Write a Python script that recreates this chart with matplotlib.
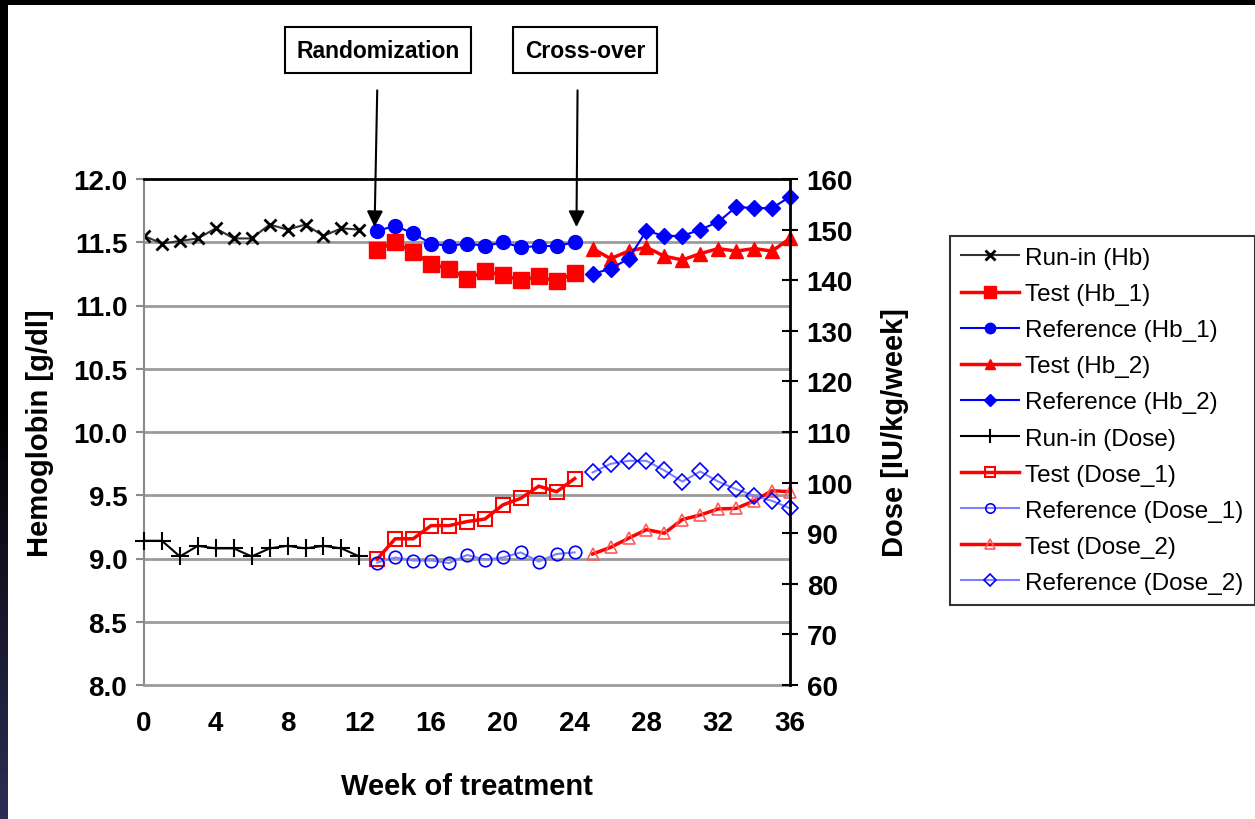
import numpy as np
import matplotlib
matplotlib.use("Agg")
import matplotlib.pyplot as plt
from matplotlib.patches import Rectangle

plt.rcParams['font.family'] = ['Liberation Sans', 'DejaVu Sans']

# week numbers for each phase
weeks_runin = [0, 1, 2, 3, 4, 5, 6, 7, 8, 9, 10, 11, 12]
weeks_p1 = [13, 14, 15, 16, 17, 18, 19, 20, 21, 22, 23, 24]
weeks_p2 = [25, 26, 27, 28, 29, 30, 31, 32, 33, 34, 35, 36]

# hemoglobin [g/dl]
hb_runin = [11.55, 11.49, 11.51, 11.53, 11.61, 11.53, 11.53, 11.64, 11.60, 11.64, 11.55, 11.61, 11.60]
hb_test_1 = [11.44, 11.50, 11.42, 11.33, 11.29, 11.21, 11.27, 11.24, 11.20, 11.23, 11.19, 11.26]
hb_ref_1 = [11.59, 11.63, 11.57, 11.49, 11.47, 11.49, 11.47, 11.50, 11.46, 11.47, 11.47, 11.50]
hb_test_2 = [11.45, 11.37, 11.43, 11.46, 11.39, 11.36, 11.41, 11.45, 11.43, 11.45, 11.43, 11.53]
hb_ref_2 = [11.25, 11.29, 11.37, 11.59, 11.55, 11.55, 11.60, 11.66, 11.78, 11.77, 11.77, 11.86]

# dose [IU/kg/week]
dose_runin = [88.5, 88.5, 85.4, 87.5, 87.0, 87.0, 85.4, 87.0, 87.5, 87.0, 87.5, 87.0, 85.4]
dose_test_1 = [84.9, 88.9, 88.9, 91.5, 91.5, 92.3, 92.8, 95.6, 96.9, 99.3, 98.2, 100.8]
dose_ref_1 = [84.2, 85.2, 84.6, 84.6, 84.1, 85.7, 84.8, 85.2, 86.2, 84.4, 85.9, 86.2]
dose_test_2 = [85.9, 87.2, 89.0, 90.7, 90.0, 92.7, 93.6, 94.8, 94.9, 96.4, 98.4, 98.2]
dose_ref_2 = [102.0, 103.7, 104.3, 104.3, 102.4, 100.2, 102.2, 100.2, 98.7, 97.4, 96.4, 94.9]

hb_ticks = [8.0, 8.5, 9.0, 9.5, 10.0, 10.5, 11.0, 11.5, 12.0]
dose_ticks = [60, 70, 80, 90, 100, 110, 120, 130, 140, 150, 160]
week_ticks = [0, 4, 8, 12, 16, 20, 24, 28, 32, 36]

W, H = 1255, 820
fig = plt.figure(figsize=(W / 100, H / 100), dpi=100, facecolor='white')

# dark border on top and left of the page
fig.patches.append(Rectangle((0, 1 - 6 / H), 1, 6 / H, transform=fig.transFigure,
                             facecolor='black', edgecolor='none', zorder=5))
side = fig.add_axes([0, 0, 8 / W, 1])
side.imshow(np.linspace(0, 1, 200).reshape(-1, 1), aspect='auto', origin='upper',
            cmap=matplotlib.colors.LinearSegmentedColormap.from_list('s', ['#000000', '#000000', '#2e2d55']))
side.axis('off')

ax = fig.add_axes([144 / W, 1 - 686 / H, 646 / W, 506 / H])
ax.set_facecolor('none')
ax2 = ax.twinx()

ax.set_xlim(0, 36)
ax.set_ylim(8.0, 12.0)
ax2.set_ylim(60, 160)
ax.set_xticks(week_ticks)
ax.set_yticks(hb_ticks)
ax.set_yticklabels([f'{v:.1f}' for v in hb_ticks])
ax2.set_yticks(dose_ticks)

for y in hb_ticks[1:-1]:
    ax.axhline(y, color='#9a9a9a', lw=2, zorder=0)
ax.spines['top'].set_color('black')
ax.spines['top'].set_linewidth(2)
ax.spines['bottom'].set_color('#9a9a9a')
ax.spines['bottom'].set_linewidth(2)
ax.spines['left'].set_color('#8a8a8a')
ax.spines['left'].set_linewidth(1.5)
ax.spines['right'].set_visible(False)
for s in ['top', 'left', 'bottom']:
    ax2.spines[s].set_visible(False)
ax2.spines['right'].set_color('black')
ax2.spines['right'].set_linewidth(2)

ax.tick_params(axis='y', length=6, width=1.5, color='#8a8a8a', pad=6, labelsize=20)
ax.tick_params(axis='x', length=0, pad=18, labelsize=20)
ax2.tick_params(axis='y', direction='inout', length=12, width=1.5, color='black', pad=6, labelsize=20)
for lab in ax.get_xticklabels() + ax.get_yticklabels() + ax2.get_yticklabels():
    lab.set_fontweight('bold')

ax.set_xlabel('Week of treatment', fontsize=21, fontweight='bold', labelpad=26)
ax.set_ylabel('Hemoglobin [g/dl]', fontsize=21, fontweight='bold', labelpad=14)
ax2.set_ylabel('Dose [IU/kg/week]', fontsize=21, fontweight='bold', labelpad=20)

red = '#ff0000'
blue = '#0000ff'
lblue = '#8080ff'

h = []
h += ax.plot(weeks_runin, hb_runin, color='#333333', lw=1.5, marker='x', ms=9, mew=2,
             mec='black', label='Run-in (Hb)')
h += ax.plot(weeks_p1, hb_test_1, color=red, lw=2.5, marker='s', ms=11, label='Test (Hb_1)')
h += ax.plot(weeks_p1, hb_ref_1, color=blue, lw=1.5, marker='o', ms=10, label='Reference (Hb_1)')
h += ax.plot(weeks_p2, hb_test_2, color=red, lw=2.5, marker='^', ms=10, label='Test (Hb_2)', clip_on=False)
h += ax.plot(weeks_p2, hb_ref_2, color=blue, lw=1.5, marker='D', ms=8, label='Reference (Hb_2)', clip_on=False)

h += ax2.plot(weeks_runin, dose_runin, color='black', lw=1.5, marker='+', ms=13, mew=1.5,
              label='Run-in (Dose)', clip_on=False)
h += ax2.plot(weeks_p1, dose_test_1, color=red, lw=2.5, marker='s', ms=10, mfc='none', mew=1.5,
              label='Test (Dose_1)')
h += ax2.plot(weeks_p1, dose_ref_1, color=lblue, lw=1.5, marker='o', ms=9, mfc='none', mec=blue,
              mew=1.2, label='Reference (Dose_1)')
h += ax2.plot(weeks_p2, dose_test_2, color=red, lw=2.5, marker='^', ms=9, mfc='none', mec='#ff5a5a',
              mew=1.2, label='Test (Dose_2)', clip_on=False)
h += ax2.plot(weeks_p2, dose_ref_2, color=lblue, lw=1.5, marker='D', ms=8, mfc='none', mec=blue,
              mew=1.2, label='Reference (Dose_2)', clip_on=False)

leg = fig.legend(handles=h, loc='upper left', bbox_to_anchor=(950 / W, 1 - 237 / H),
                 fontsize=17.5, frameon=True, fancybox=False, edgecolor='black',
                 handlelength=2.4, handletextpad=0.25, labelspacing=0.58,
                 borderpad=0.45, borderaxespad=0, markerscale=0.75)
leg.get_frame().set_linewidth(1.5)

# phase annotations
box = dict(boxstyle='square,pad=0.5', facecolor='white', edgecolor='black', lw=1.5)
ax.annotate('Randomization', xy=(12.85, 11.62), xytext=(378 / W, 1 - 51 / H),
            textcoords='figure fraction', ha='center', va='center', fontsize=16.5,
            fontweight='bold', bbox=box,
            arrowprops=dict(arrowstyle='-|>', color='black', lw=1.5, mutation_scale=24,
                            shrinkA=12, shrinkB=0))
ax.annotate('Cross-over', xy=(24.1, 11.62), xytext=(585 / W, 1 - 51 / H),
            textcoords='figure fraction', ha='center', va='center', fontsize=16.5,
            fontweight='bold', bbox=box,
            arrowprops=dict(arrowstyle='-|>', color='black', lw=1.5, mutation_scale=24,
                            shrinkA=12, shrinkB=0, relpos=(0.44, 0)))

fig.savefig('out.png', dpi=100, facecolor=fig.get_facecolor())
